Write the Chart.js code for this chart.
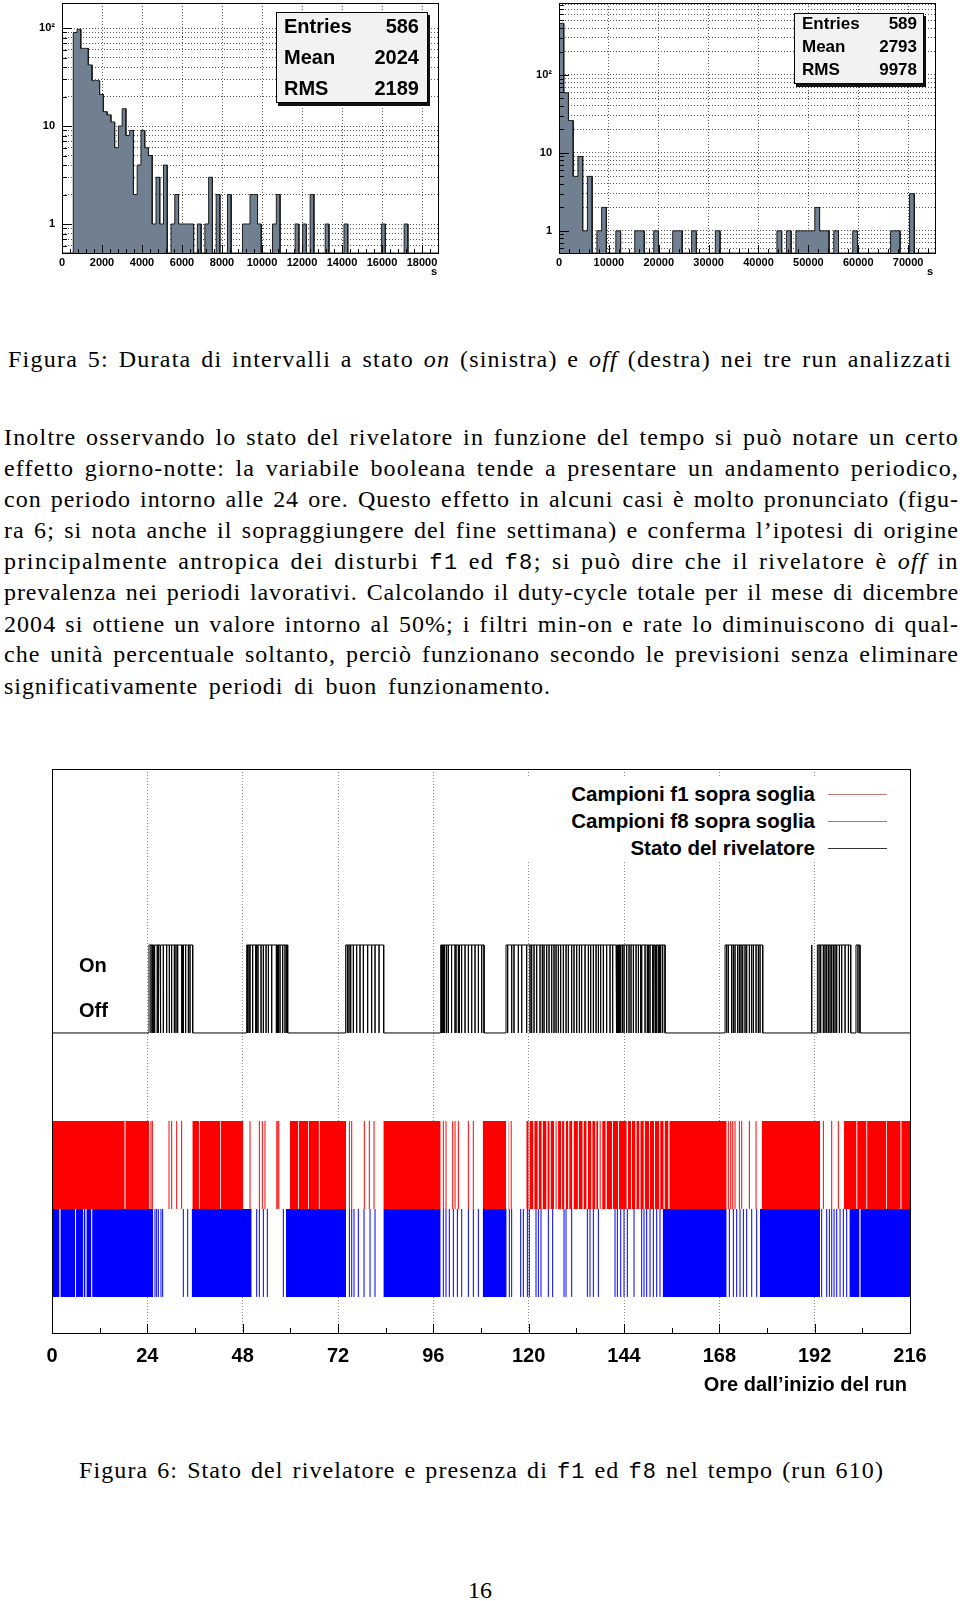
<!DOCTYPE html>
<html lang="it">
<head>
<meta charset="utf-8">
<title>Figura 5 e Figura 6</title>
<script src="https://cdn.jsdelivr.net/npm/chart.js@4.4.1/dist/chart.umd.min.js"></script>
<style>
  html, body { margin: 0; padding: 0; background: #fff; }
  #pagina { position: relative; width: 960px; height: 1601px; overflow: hidden; color: #000;
            font-family: "Liberation Serif", "Times New Roman", serif; }
  #pagina canvas { position: absolute; }
  .testo { position: absolute; white-space: nowrap; font-size: 24px; line-height: 31px; }
  .testo tt { font-family: "Liberation Mono", monospace; font-size: 22px; }
  .sans { position: absolute; white-space: nowrap; font-family: "Liberation Sans", Arial, sans-serif; font-weight: bold; }
  .stats { position: absolute; box-sizing: border-box; background: #f2f2f2; border: 1px solid #000;
           box-shadow: 2px 3px 0 #111; font-family: "Liberation Sans", Arial, sans-serif; font-weight: bold; }
  .stats div { display: flex; justify-content: space-between; }
  .legenda { position: absolute; background: #fff; }
  .tratto { position: absolute; height: 1px; }
</style>
</head>
<body>
<div id="pagina">
  <canvas id="istoOn" width="445" height="290" style="left:10px;top:0"></canvas>
  <canvas id="istoOff" width="450" height="290" style="left:505px;top:0"></canvas>
  <div class="stats" id="statsOn" style="left:276px;top:12px;width:152px;height:91px;font-size:20px;line-height:30.8px;padding:0 8px 0 7px"></div>
  <div class="stats" id="statsOff" style="left:794px;top:13px;width:130px;height:71px;font-size:17px;line-height:23px;padding:0 6px 0 7px"></div>
  <div class="sans" style="left:431px;top:265px;font-size:11px">s</div>
  <div class="sans" style="left:927px;top:265px;font-size:11px">s</div>

  <div class="testo" data-w="944" style="left:8px;top:344px">Figura 5: Durata di intervalli a stato <i>on</i> (sinistra) e <i>off</i> (destra) nei tre run analizzati</div>

  <div class="testo" data-w="955" style="left:4px;top:421.5px">Inoltre osservando lo stato del rivelatore in funzione del tempo si può notare un certo</div>
  <div class="testo" data-w="955" style="left:4px;top:452.5px">effetto giorno-notte: la variabile booleana tende a presentare un andamento periodico,</div>
  <div class="testo" data-w="955" style="left:4px;top:484px">con periodo intorno alle 24 ore. Questo effetto in alcuni casi è molto pronunciato (figu-</div>
  <div class="testo" data-w="955" style="left:4px;top:514.5px">ra 6; si nota anche il sopraggiungere del fine settimana) e conferma l’ipotesi di origine</div>
  <div class="testo" data-w="955" style="left:4px;top:546px">principalmente antropica dei disturbi <tt>f1</tt> ed <tt>f8</tt>; si può dire che il rivelatore è <i>off</i> in</div>
  <div class="testo" data-w="955" style="left:4px;top:577px">prevalenza nei periodi lavorativi. Calcolando il duty-cycle totale per il mese di dicembre</div>
  <div class="testo" data-w="955" style="left:4px;top:608.5px">2004 si ottiene un valore intorno al 50%; i filtri min-on e rate lo diminuiscono di qual-</div>
  <div class="testo" data-w="955" style="left:4px;top:639px">che unità percentuale soltanto, perciò funzionano secondo le previsioni senza eliminare</div>
  <div class="testo" data-w="547" style="left:4px;top:671px">significativamente periodi di buon funzionamento.</div>

  <canvas id="tempo" width="960" height="640" style="left:0;top:760px"></canvas>
  <div class="legenda" id="legenda" style="left:515px;top:776px;width:390px;height:86px"></div>
  <div class="sans" style="left:79px;top:954px;font-size:20px">On</div>
  <div class="sans" style="left:79px;top:999px;font-size:20px">Off</div>
  <div class="sans" style="left:607px;width:300px;text-align:right;top:1373px;font-size:20px">Ore dall’inizio del run</div>

  <div class="testo" data-w="805" style="left:79px;top:1454.5px">Figura 6: Stato del rivelatore e presenza di <tt>f1</tt> ed <tt>f8</tt> nel tempo (run 610)</div>
  <div class="testo" style="left:0;width:960px;text-align:center;top:1574.5px">16</div>
</div>

<script>
// ---------- Figura 5: durata degli intervalli (istogrammi) ----------
const onBinW = 188;            // secondi per bin
const onXMax = 18800;
const onCounts = [
  0, 0, 0, 90, 97, 62, 62, 42, 29, 29,
  21, 14, 13, 11, 6, 10, 15, 8, 9, 2,
  4, 9, 6, 5, 1, 3, 1, 4, 0, 1,
  2, 1, 1, 1, 1, 0, 1, 0, 1, 3,
  0, 2, 0, 0, 2, 0, 0, 0, 1, 1,
  2, 2, 1, 0, 0, 0, 1, 2, 0, 0,
  0, 0, 1, 0, 1, 0, 2, 0, 0, 0,
  1, 0, 0, 0, 0, 1, 0, 0, 0, 0,
  0, 0, 0, 0, 0, 1, 0, 0, 0, 0,
  0, 1, 0, 0, 0, 0, 0, 0, 0, 0
];
const onYRange = [0.506, 180];
const onXTicks = [0, 2000, 4000, 6000, 8000, 10000, 12000, 14000, 16000, 18000];
const onStats = [["Entries", "586"], ["Mean", "2024"], ["RMS", "2189"]];

const offBinW = 950;
const offXMax = 75400;
const offCounts = [
  460, 59, 26, 5, 9, 1, 5, 0, 1, 2,
  0, 0, 1, 0, 0, 0, 1, 1, 0, 0,
  1, 0, 0, 0, 1, 1, 0, 0, 1, 0,
  0, 0, 0, 1, 0, 0, 0, 0, 0, 0,
  0, 0, 0, 0, 0, 0, 1, 0, 1, 0,
  1, 1, 1, 1, 2, 1, 1, 0, 1, 0,
  0, 0, 1, 0, 0, 0, 0, 0, 0, 0,
  1, 1, 0, 0, 3, 0, 0, 0, 0, 0
];
const offYRange = [0.52, 838];
const offXTicks = [0, 10000, 20000, 30000, 40000, 50000, 60000, 70000];
const offStats = [["Entries", "589"], ["Mean", "2793"], ["RMS", "9978"]];

const logLabels = { 1: "1", 10: "10", 100: "10²" };

// ---------- Figura 6: stato del rivelatore e campioni sopra soglia (ore) ----------
const oreTicks = [0, 24, 48, 72, 96, 120, 144, 168, 192, 216];

// intervalli in cui il rivelatore è "on"
const statoOn = [[24.42, 35.42], [49.01, 59.33], [73.93, 83.5], [97.85, 108.76], [114.3, 154.33],
  [169.44, 178.92], [191.2, 191.3], [192.68, 201.07], [202.4, 203.4]];
// brevi cadute a "off" dentro gli intervalli
const statoCadute = [
  24.92, 25.26, 25.5, 25.76, 25.93, 26.5, 26.77, 27.19, 27.44, 28.03, 28.87, 29.54, 30.12, 30.8, 31.22, 31.64, 32.65, 32.9, 33.07, 33.65, 34.33, 34.74,
  49.26, 49.6, 49.85, 50.52, 51.28, 51.53, 51.86, 52.62, 53.2, 53.88, 54.47, 55.31, 56.48, 56.73, 56.98, 57.4, 58.08, 58.66, 59.08,
  74.35, 74.77, 75.2, 75.86, 76.7, 77.54, 78.38, 79.47, 80.48, 81.32, 82.33,
  98.1, 98.35, 98.6, 98.86, 99.36, 99.78, 100.6, 101.46, 101.71, 102.3, 102.55, 103.13, 103.98, 104.82, 105.66, 106.5, 107.34, 108.18,
  114.72, 115.73, 116.31, 117.4, 118.25, 119.5, 120.34, 120.76, 121.35, 122.02, 122.86, 123.44, 123.87, 124.54, 125.13, 125.8,
  126.38, 126.89, 127.47, 128.06, 128.73, 129.41, 129.99, 130.83, 131.42, 132.09, 132.76, 133.34, 134.19, 135.03, 135.62, 136.29,
  136.96, 137.55, 138.13, 138.8, 139.64, 140.48, 141.15, 141.99, 142.2, 142.41, 142.62, 142.83, 143.17, 143.59, 144.01, 144.68,
  145.27, 145.77, 146.36, 147.03, 147.62, 148.2, 148.46, 149.3, 149.87, 150.2, 150.55, 151.22, 151.5, 151.81, 152.0, 152.23,
  152.65, 152.9, 153.24, 153.74,
  169.86, 170.27, 171.11, 171.53, 171.95, 172.62, 173.04, 173.46, 173.89, 174.47, 174.89, 175.56, 176.14, 176.57, 177.24, 177.82, 178.25,
  193.1, 193.52, 194.18, 194.6, 195.02, 195.44, 195.87, 196.29, 196.71, 197.13, 197.55, 198.22, 198.81, 199.65, 200.49, 202.9
];

// campioni f1 sopra soglia: tratti continui e campioni isolati
const f1Pieni = [[0, 18.3], [18.45, 24.5], [35.33, 37.0], [37.15, 42.4], [42.55, 48.17], [59.92, 61.95], [62.1, 64.45],
  [64.6, 67.2], [67.35, 74.02], [83.42, 97.85], [108.42, 114.3], [114.9, 115.1],
  [119.4, 120.0], [120.2, 121.2], [121.4, 122.3], [122.5, 123.3], [123.5, 124.5], [124.7, 125.3], [125.5, 126.4],
  [127.4, 128.2], [128.4, 129.0], [129.3, 130.0], [130.2, 131.0], [131.3, 132.4], [132.6, 133.6], [133.8, 134.6],
  [134.9, 135.8], [136.0, 136.8], [137.0, 137.5], [138.5, 139.4], [139.6, 141.0], [141.2, 142.5], [142.7, 144.7],
  [145.0, 145.8], [146.0, 146.9], [147.1, 147.9], [148.1, 149.0], [149.2, 150.3], [150.5, 151.6], [151.8, 152.9],
  [153.1, 154.0], [154.2, 155.2], [155.4, 169.85],
  [178.66, 193.35], [199.39, 202.55], [202.7, 205.05], [205.2, 210.05], [210.2, 213.65], [213.8, 216]];
const f1Isolati = [24.92, 25.26, 29.46, 30.13, 31.39, 32.64, 49.85, 52.2, 52.95, 53.62, 56.6, 56.85, 57.1, 74.86, 75.45,
  78.63, 79.89, 81.07, 98.52, 99.19, 100.87, 101.46, 102.3, 104.82, 106.07, 115.6, 126.9, 138.0,
  170.27, 170.86, 171.36, 171.95, 173.04, 173.63, 175.56, 177.24, 194.19, 196.29, 197.96];

// campioni f8 sopra soglia
const f8Pieni = [[0, 1.9], [2.1, 5.85], [6.05, 7.8], [7.95, 8.45], [8.65, 9.9], [10.1, 25.5], [35.16, 50.27], [58.91, 74.02],
  [83.42, 97.85], [108.42, 114.46], [153.74, 169.85], [178.24, 193.35], [200.74, 203.3], [203.5, 216]];
const f8Isolati = [25.93, 26.35, 26.77, 27.44, 27.86, 33.06, 34.16, 51.53, 52.2, 53.21, 54.21, 58.24, 74.86, 75.45, 76.03,
  77.12, 78.55, 80.06, 81.32, 98.52, 99.19, 100.03, 101.04, 102.05, 103.14, 104.82, 106.07, 107.33, 115.13, 115.72, 117.99,
  118.66, 119.67, 120.17, 121.85, 122.44, 123.11, 124.95, 126.04, 128.9, 129.4, 130.83, 134.77, 135.44, 136.28, 137.54,
  141.74, 142.33, 143.17, 144.0, 144.84, 146.52, 148.45, 149.04, 149.71, 150.55, 151.39, 152.23, 153.07, 170.52, 171.53,
  172.37, 173.21, 174.05, 174.89, 176.15, 177.4, 193.77, 195.03, 195.7, 196.29, 196.88, 197.55, 198.39, 199.22, 200.06];

const legendaVoci = ["Campioni f1 sopra soglia", "Campioni f8 sopra soglia", "Stato del rivelatore"];
const legendaColori = ["#c27c7c", "#7c7cc8", "#33333d"];

// livelli verticali delle tre tracce
const LIV_OFF = 3, LIV_ON = 4;
const F1_BASSO = 1, F1_ALTO = 2;
const F8_BASSO = 0, F8_ALTO = 1;

Chart.defaults.font.family = "'Liberation Sans', Arial, sans-serif";
Chart.defaults.color = "#000";

// cornice e tacche interne stile ROOT
function cornice(xTacche, yTacche) {
  return {
    id: "cornice",
    afterDatasetsDraw(chart) {
      const { ctx, chartArea: a, scales } = chart;
      ctx.save();
      ctx.strokeStyle = "#000";
      ctx.lineWidth = 1;
      ctx.beginPath();
      xTacche.forEach(([v, len]) => {
        const px = Math.round(scales.x.getPixelForValue(v)) + 0.5;
        ctx.moveTo(px, a.bottom);
        ctx.lineTo(px, a.bottom - len);
      });
      yTacche.forEach(([v, len]) => {
        const py = Math.round(scales.y.getPixelForValue(v)) + 0.5;
        ctx.moveTo(a.left, py);
        ctx.lineTo(a.left + len, py);
      });
      ctx.stroke();
      ctx.strokeRect(Math.round(a.left) + 0.5, Math.round(a.top) + 0.5,
        Math.round(a.right - a.left), Math.round(a.bottom - a.top));
      ctx.restore();
    }
  };
}

function puntiIsto(counts, w, yMin) {
  const p = [];
  counts.forEach((c, i) => {
    const y = c > 0 ? c : yMin;
    p.push({ x: i * w, y }, { x: (i + 1) * w, y });
  });
  return p;
}

function logTicks(max) {
  const t = [];
  [0.1, 1, 10, 100].forEach(d => {
    for (let k = 1; k <= 9; k++) {
      const v = +(k * d).toPrecision(3);
      if (v >= 0.6 && v <= max) t.push(v);
    }
  });
  return t;
}

function istogramma(id, counts, w, xMax, yRange, xTicks, xMinore, yAxisW, padRight) {
  const yT = logTicks(yRange[1]);
  const xTacche = [];
  for (let v = 0; v <= xMax; v += xMinore) xTacche.push([v, xTicks.includes(v) ? 8 : 4]);
  const yTacche = yT.map(v => [v, logLabels[v] ? 10 : 5]);
  new Chart(document.getElementById(id), {
    type: "line",
    data: {
      datasets: [{
        data: puntiIsto(counts, w, yRange[0]),
        borderColor: "#1c1c1c",
        borderWidth: 1,
        backgroundColor: "#708090",
        fill: "start",
        pointRadius: 0,
        tension: 0
      }]
    },
    options: {
      responsive: false,
      animation: false,
      events: [],
      layout: { autoPadding: false, padding: { top: 3, right: padRight, left: 0, bottom: 0 } },
      plugins: { legend: { display: false }, tooltip: { enabled: false } },
      scales: {
        x: {
          type: "linear", min: 0, max: xMax,
          afterBuildTicks: s => { s.ticks = xTicks.map(v => ({ value: v })); },
          afterFit: s => { s.height = 37; s.paddingLeft = 0; s.paddingRight = 0; },
          ticks: { autoSkip: false, maxRotation: 0, padding: 3, font: { size: 11, weight: "bold" }, callback: v => String(v) },
          grid: { color: "#555", drawTicks: false },
          border: { display: false, dash: [1, 2] }
        },
        y: {
          type: "logarithmic", min: yRange[0], max: yRange[1],
          afterBuildTicks: s => { s.ticks = yT.map(v => ({ value: v })); },
          afterFit: s => { s.width = yAxisW; s.paddingTop = 0; s.paddingBottom = 0; },
          ticks: { autoSkip: false, padding: 7, font: { size: 11, weight: "bold" }, callback: v => logLabels[v] || "" },
          grid: { color: "#555", drawTicks: false },
          border: { display: false, dash: [1, 2] }
        }
      }
    },
    plugins: [cornice(xTacche, yTacche)]
  });
}

istogramma("istoOn", onCounts, onBinW, onXMax, onYRange, onXTicks, 400, 52, 17);
istogramma("istoOff", offCounts, offBinW, offXMax, offYRange, offXTicks, 2000, 54, 20);

function riempiStats(id, righe) {
  document.getElementById(id).innerHTML = righe
    .map(([k, v], i) => `<div style="${i === 0 ? "margin-top:-2px" : ""}"><span>${k}</span><span>${v}</span></div>`)
    .join("");
}
riempiStats("statsOn", onStats);
riempiStats("statsOff", offStats);

// ---------- Figura 6 ----------
const xMin = oreTicks[0], xMax = oreTicks[oreTicks.length - 1];

const statoPunti = [{ x: xMin, y: LIV_OFF }];
statoOn.forEach(([a, b]) => {
  statoPunti.push({ x: a, y: LIV_OFF }, { x: a, y: LIV_ON });
  statoCadute.filter(t => t > a && t < b).forEach(t => {
    statoPunti.push({ x: t, y: LIV_ON }, { x: t, y: LIV_OFF }, { x: t, y: LIV_ON });
  });
  statoPunti.push({ x: b, y: LIV_ON }, { x: b, y: LIV_OFF });
});
statoPunti.push({ x: xMax, y: LIV_OFF });

function pieni(intervalli, alto) {
  const p = [];
  intervalli.forEach(([a, b]) => p.push({ x: a, y: alto }, { x: b, y: alto }, { x: b, y: null }));
  return p;
}
function isolati(tempi, basso, alto) {
  const p = [];
  tempi.forEach(t => p.push({ x: t, y: basso }, { x: t, y: alto }, { x: t, y: null }));
  return p;
}
const base = { pointRadius: 0, tension: 0, spanGaps: false };

const tacche6 = [];
for (let v = xMin; v <= xMax; v += 12) tacche6.push([v, oreTicks.includes(v) ? 9 : 5]);

new Chart(document.getElementById("tempo"), {
  type: "line",
  data: {
    datasets: [
      { ...base, data: pieni(f1Pieni, F1_ALTO), borderWidth: 0, backgroundColor: "#ff0000", fill: { value: F1_BASSO } },
      { ...base, data: isolati(f1Isolati, F1_BASSO, F1_ALTO), borderColor: "#ff0000", borderWidth: 1, fill: false },
      { ...base, data: pieni(f8Pieni, F8_ALTO), borderWidth: 0, backgroundColor: "#0000ff", fill: { value: F8_BASSO } },
      { ...base, data: isolati(f8Isolati, F8_BASSO, F8_ALTO), borderColor: "#0000ff", borderWidth: 1, fill: false },
      { ...base, data: statoPunti, borderColor: "#000", borderWidth: 1, fill: false }
    ]
  },
  options: {
    responsive: false,
    animation: false,
    events: [],
    layout: { autoPadding: false, padding: { top: 9, left: 52, right: 50, bottom: 0 } },
    plugins: { legend: { display: false }, tooltip: { enabled: false } },
    scales: {
      x: {
        type: "linear", min: xMin, max: xMax,
        afterBuildTicks: s => { s.ticks = oreTicks.map(v => ({ value: v })); },
        afterFit: s => { s.height = 67; },
        ticks: { autoSkip: false, maxRotation: 0, padding: 11, font: { size: 20, weight: "bold" }, callback: v => String(v) },
        grid: { color: "#8a8a8a", drawTicks: false },
        border: { display: false, dash: [1, 2] }
      },
      y: { type: "linear", display: false, min: -0.41, max: 6 }
    }
  },
  plugins: [cornice(tacche6, [])]
});

// legenda
const leg = document.getElementById("legenda");
legendaVoci.forEach((t, i) => {
  const yc = 18 + i * 27;
  leg.insertAdjacentHTML("beforeend",
    `<div class="sans" style="left:0;width:300px;text-align:right;top:${yc - 12}px;font-size:20.5px;line-height:24px">${t}</div>` +
    `<div class="tratto" style="left:313px;width:59px;top:${yc}px;background:${legendaColori[i]}"></div>`);
});

// giustificazione delle righe: gran parte dello spazio in più tra le lettere, il resto tra le parole
function adattaRighe() {
  document.querySelectorAll("[data-w]").forEach(el => {
    el.style.letterSpacing = "0px";
    el.style.wordSpacing = "0px";
    const extra = parseFloat(el.dataset.w) - el.getBoundingClientRect().width;
    const testo = el.textContent;
    const spazi = (testo.match(/ /g) || []).length || 1;
    el.style.letterSpacing = (extra * 0.75 / testo.length) + "px";
    el.style.wordSpacing = (extra * 0.25 / spazi) + "px";
  });
}
adattaRighe();
if (document.fonts && document.fonts.ready) document.fonts.ready.then(adattaRighe);
</script>
</body>
</html>
